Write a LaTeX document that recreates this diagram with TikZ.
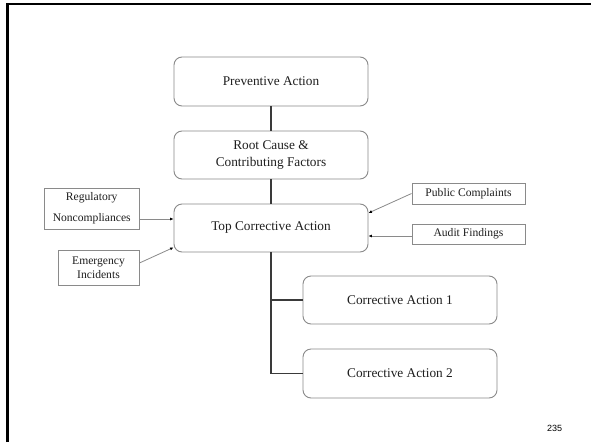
\documentclass[tikz,border=0pt]{standalone}
\usepackage{fontspec}
\setmainfont{Liberation Serif}
\newfontfamily\numfont{Liberation Sans}
\usetikzlibrary{arrows.meta,calc}
\definecolor{boxline}{HTML}{8A8A8A}
\definecolor{linkline}{HTML}{3A3A3A}
\definecolor{txt}{HTML}{1E1E1E}
\begin{document}
\begin{tikzpicture}[x=1pt,y=-1pt,
  bigbox/.style={draw=boxline,line width=0.9pt,rounded corners=8pt,minimum width=194pt,
    align=center,inner sep=0pt,font=\fontsize{13.3}{17}\selectfont,text=txt},
  smallbox/.style={draw=boxline,line width=0.9pt,align=center,inner sep=0pt,
    font=\fontsize{11.6}{14}\selectfont,text=txt},
  trunk/.style={draw=linkline,line width=1.8pt},
  feed/.style={draw=boxline,line width=0.8pt,-{Latex[length=3.5pt,width=3pt]}, arrows={[black]}},
  ]
\useasboundingbox (0,0) rectangle (591,442);
\fill[white] (0,0) rectangle (591,442);
% slide frame
\draw[black,line width=2.3pt] (7.5,442) -- (7.5,4) -- (591,4);

% main chain
\node[bigbox,minimum height=49pt] (prev) at (271,81.5) {Preventive Action};
\node[bigbox,minimum height=48pt] (root) at (271,155) {Root Cause \&\\Contributing Factors};
\node[bigbox,minimum height=48pt] (top)  at (271,228) {Top Corrective Action};
\node[bigbox,minimum height=48pt] (ca1)  at (400,300) {Corrective Action 1};
\node[bigbox,minimum height=49pt] (ca2)  at (400,373.5) {Corrective Action 2};

% inputs
\node[smallbox,minimum width=94.5pt,minimum height=41pt,font=\fontsize{11.6}{21}\selectfont] (reg) at (91.75,208.5) {Regulatory\\Noncompliances};
\node[smallbox,minimum width=81pt,minimum height=35pt] (emer) at (98.5,267.5) {Emergency\\Incidents};
\node[smallbox,minimum width=113pt,minimum height=21pt] (pub) at (468.5,193.5) {Public Complaints};
\node[smallbox,minimum width=113pt,minimum height=20pt] (aud) at (468.5,234) {Audit Findings};

% trunk connectors
\draw[trunk] (prev.south) -- (root.north);
\draw[trunk] (root.south) -- (top.north);
\draw[trunk] (top.south) |- (ca2.west);
\draw[trunk] (top.south |- ca1.west) -- (ca1.west);

% feeding arrows
\draw[feed] ([yshift=-10.5pt]reg.east) -- ([yshift=-10.5pt]reg.east -| top.west);
\draw[feed] ([yshift=4.5pt]emer.east) -- ([yshift=5pt]top.south west);
\draw[feed] (pub.west) -- ([yshift=15pt]top.east);
\draw[feed] ([yshift=-2pt]aud.west) -- ([yshift=-2pt]aud.west -| top.east);

% page number
\node[font=\numfont\fontsize{9}{10}\selectfont,text=black] (pg) at (554.5,428) {235};
\end{tikzpicture}
\end{document}
